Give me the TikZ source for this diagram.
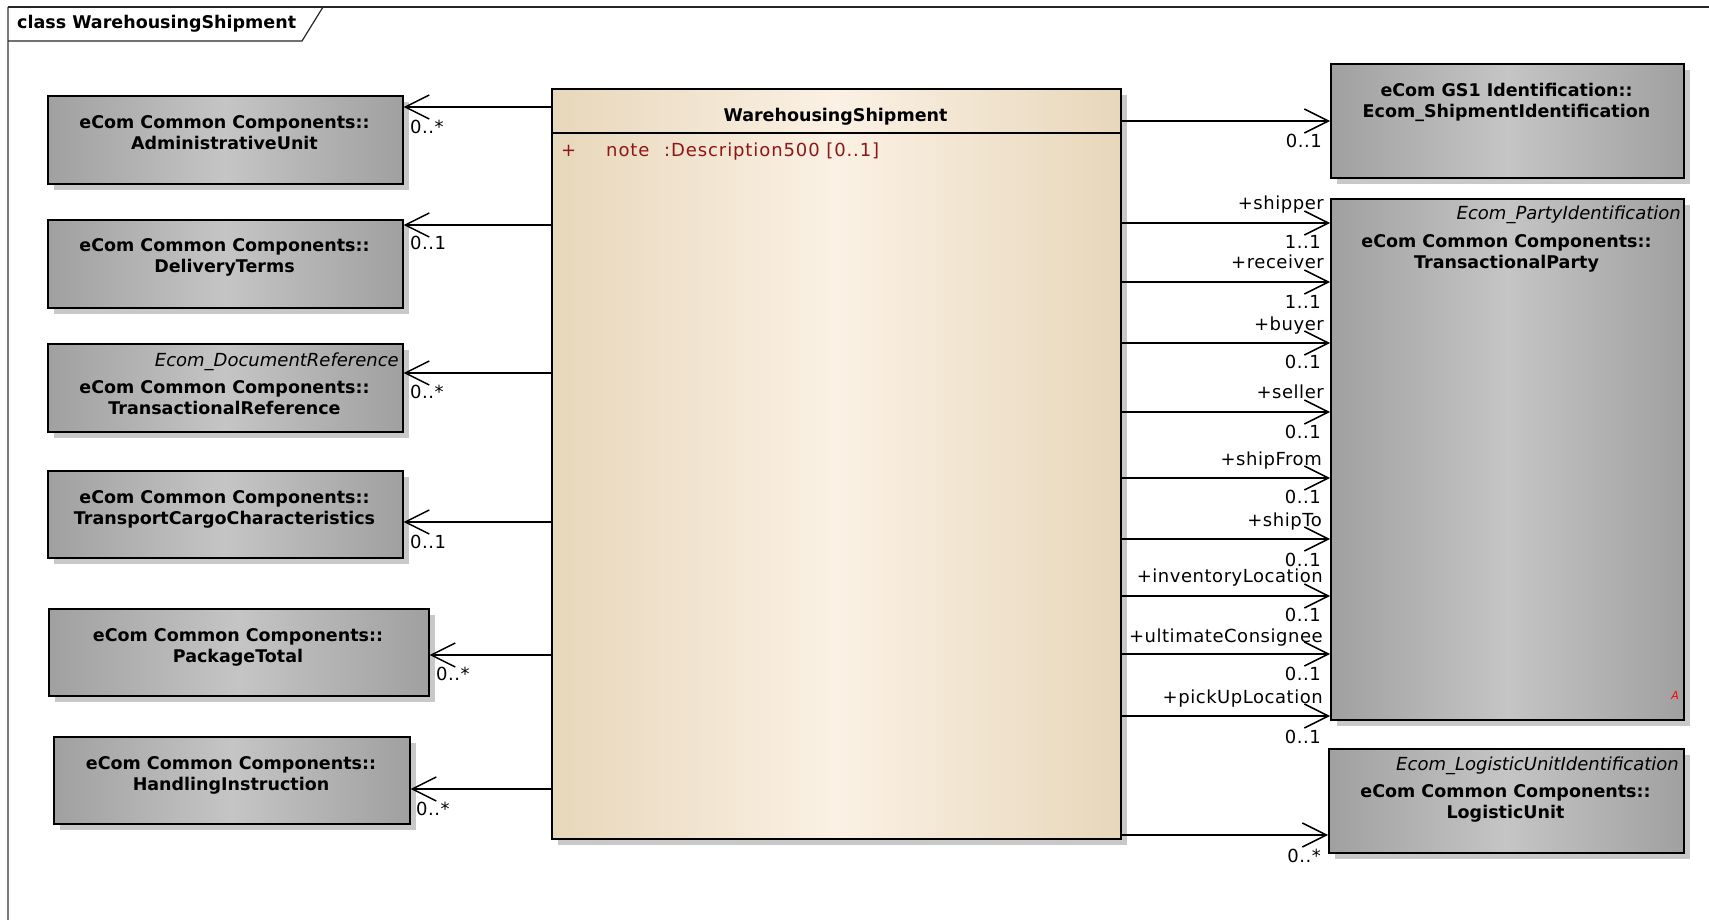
\documentclass[tikz,border=0pt]{standalone}
\usepackage{fontspec}
\setmainfont{DejaVu Sans}
\newfontfamily\lblfont[LetterSpace=3]{DejaVu Sans}
\newfontfamily\attrfont[LetterSpace=5]{DejaVu Sans}
\usetikzlibrary{arrows.meta,shadows}
\definecolor{gEdge}{HTML}{A0A0A0}
\definecolor{gMid}{HTML}{C5C5C5}
\definecolor{bEdge}{HTML}{E7D7BB}
\definecolor{bMid}{HTML}{FBF1E4}
\definecolor{attrred}{HTML}{8E1616}
\definecolor{shd}{HTML}{C8C8C8}
\definecolor{frameGray}{HTML}{7A7A7A}
\newcommand\boldtxt{\fontsize{17.5pt}{21pt}\selectfont\bfseries}
\newcommand\regtxt{\lblfont\fontsize{18pt}{21pt}\selectfont}
\newcommand\attrtxt{\attrfont\fontsize{18pt}{21pt}\selectfont}
\newcommand\ittxt{\fontsize{18pt}{21pt}\selectfont\itshape}
\begin{document}
\begin{tikzpicture}[x=1pt,y=-1pt,
  clsbox/.style={draw=black, line width=1.6pt, anchor=north west, inner sep=0pt,
    left color=gEdge, right color=gEdge, middle color=gMid,
    drop shadow={shadow xshift=6pt, shadow yshift=-6pt, fill=shd, opacity=1}},
  mainbox/.style={draw=black, line width=1.6pt, anchor=north west, inner sep=0pt,
    left color=bEdge, right color=bEdge, middle color=bMid,
    drop shadow={shadow xshift=6pt, shadow yshift=-6pt, fill=shd, opacity=1}},
  clsname/.style={align=center, inner sep=0pt, font=\boldtxt},
  stereo/.style={anchor=east, inner sep=0pt, font=\ittxt, text height=13.5pt, text depth=4pt},
  lbl/.style={inner sep=0pt, font=\regtxt, text height=13.5pt, text depth=4pt},
  lblE/.style={lbl, anchor=east},
  lblW/.style={lbl, anchor=west},
  attrlbl/.style={inner sep=0pt, anchor=west, font=\attrtxt, text=attrred, text height=13.5pt, text depth=4pt},
  assoc/.style={line width=1.5pt, -{Straight Barb[length=24pt,width=24pt,line width=1.5pt]}}
]
\useasboundingbox (0,0) rectangle (1709,920);
\fill[white] (0,0) rectangle (1709,920);

% frame
\draw[frameGray, line width=1.8pt] (8,7) -- (8,930);
\draw[black!85, line width=1.2pt] (8,7) -- (1720,7);
\draw[black!85, line width=1.2pt] (8,41) -- (302,41) -- (323,7);
\node[anchor=west, inner sep=0pt, font=\boldtxt, text height=13pt, text depth=4pt] (frametitle) at (17,24) {class WarehousingShipment};

% left classes
\node[clsbox, minimum width=355pt, minimum height=88pt] (admin) at (47,95) {};
\node[clsname] (admin-t) at (224.5,132.5) {eCom Common Components::\\AdministrativeUnit};

\node[clsbox, minimum width=355pt, minimum height=88pt] (deliv) at (47,219) {};
\node[clsname] (deliv-t) at (224.5,257) {eCom Common Components::\\DeliveryTerms};

\node[clsbox, minimum width=355pt, minimum height=88pt] (tref) at (47,343) {};
\node[stereo] (tref-s) at (399,362) {Ecom\_DocumentReference};
\node[clsname] (tref-t) at (224.5,398) {eCom Common Components::\\TransactionalReference};

\node[clsbox, minimum width=355pt, minimum height=87pt] (cargo) at (47,470) {};
\node[clsname] (cargo-t) at (224.5,509) {eCom Common Components::\\TransportCargoCharacteristics};

\node[clsbox, minimum width=380pt, minimum height=87pt] (pkg) at (48,608) {};
\node[clsname] (pkg-t) at (238,647) {eCom Common Components::\\PackageTotal};

\node[clsbox, minimum width=356pt, minimum height=87pt] (handl) at (53,736) {};
\node[clsname] (handl-t) at (231,775) {eCom Common Components::\\HandlingInstruction};

% main class
\node[mainbox, minimum width=569pt, minimum height=750pt] (ws) at (551,88) {};
\node[inner sep=0pt, font=\boldtxt, text height=13pt, text depth=4pt] (ws-t) at (835.5,117) {WarehousingShipment};
\draw[line width=1.5pt] (ws.west |- 0,133) -- (ws.east |- 0,133);
\node[attrlbl] (ws-a1) at (561,152) {+};
\node[attrlbl] (ws-a2) at (606,152) {note};
\node[attrlbl] (ws-a3) at (664,152) {:Description500 [0..1]};

% right classes
\node[clsbox, minimum width=353pt, minimum height=114pt] (shipid) at (1330,63) {};
\node[clsname] (shipid-t) at (1506.5,102.5) {eCom GS1 Identification::\\Ecom\_ShipmentIdentification};

\node[clsbox, minimum width=353pt, minimum height=521pt] (party) at (1330,198) {};
\node[stereo] (party-s) at (1681,215) {Ecom\_PartyIdentification};
\node[clsname] (party-t) at (1506.5,253.5) {eCom Common Components::\\TransactionalParty};
\node[inner sep=0pt, text=red, font=\fontsize{11pt}{12pt}\selectfont\itshape] (party-a) at (1675,695) {A};

\node[clsbox, minimum width=355pt, minimum height=104pt] (logi) at (1328,748) {};
\node[stereo] (logi-s) at (1679,766) {Ecom\_LogisticUnitIdentification};
\node[clsname] (logi-t) at (1505.5,803.5) {eCom Common Components::\\LogisticUnit};

% left associations
\draw[assoc] (ws.west |- 0,107) -- (admin.east |- 0,107);
\node[lblW] (m-admin) at (410,129) {0..*};
\draw[assoc] (ws.west |- 0,225) -- (deliv.east |- 0,225);
\node[lblW] (m-deliv) at (410,245) {0..1};
\draw[assoc] (ws.west |- 0,373) -- (tref.east |- 0,373);
\node[lblW] (m-tref) at (410,394) {0..*};
\draw[assoc] (ws.west |- 0,522) -- (cargo.east |- 0,522);
\node[lblW] (m-cargo) at (410,544) {0..1};
\draw[assoc] (ws.west |- 0,655) -- (pkg.east |- 0,655);
\node[lblW] (m-pkg) at (436,676) {0..*};
\draw[assoc] (ws.west |- 0,789) -- (handl.east |- 0,789);
\node[lblW] (m-handl) at (416,811) {0..*};

% right associations
\draw[assoc] (ws.east |- 0,121) -- (shipid.west |- 0,121);
\node[lblE] (m-shipid) at (1322,143) {0..1};

\draw[assoc] (ws.east |- 0,223) -- (party.west |- 0,223);
\node[lblE] (r-shipper) at (1324,205) {+shipper};
\node[lblE] (m-shipper) at (1321,244) {1..1};

\draw[assoc] (ws.east |- 0,282) -- (party.west |- 0,282);
\node[lblE] (r-receiver) at (1324,264) {+receiver};
\node[lblE] (m-receiver) at (1321,304) {1..1};

\draw[assoc] (ws.east |- 0,343) -- (party.west |- 0,343);
\node[lblE] (r-buyer) at (1324,326) {+buyer};
\node[lblE] (m-buyer) at (1321,364) {0..1};

\draw[assoc] (ws.east |- 0,412) -- (party.west |- 0,412);
\node[lblE] (r-seller) at (1324,394) {+seller};
\node[lblE] (m-seller) at (1321,434) {0..1};

\draw[assoc] (ws.east |- 0,478) -- (party.west |- 0,478);
\node[lblE] (r-shipfrom) at (1322,461) {+shipFrom};
\node[lblE] (m-shipfrom) at (1321,499) {0..1};

\draw[assoc] (ws.east |- 0,539) -- (party.west |- 0,539);
\node[lblE] (r-shipto) at (1322,522) {+shipTo};
\node[lblE] (m-shipto) at (1321,562) {0..1};

\draw[assoc] (ws.east |- 0,596) -- (party.west |- 0,596);
\node[lblE] (r-inv) at (1323,578) {+inventoryLocation};
\node[lblE] (m-inv) at (1321,617) {0..1};

\draw[assoc] (ws.east |- 0,654) -- (party.west |- 0,654);
\node[lblE] (r-ult) at (1323,638) {+ultimateConsignee};
\node[lblE] (m-ult) at (1321,676) {0..1};

\draw[assoc] (ws.east |- 0,716) -- (party.west |- 0,716);
\node[lblE] (r-pick) at (1323,699) {+pickUpLocation};
\node[lblE] (m-pick) at (1321,739) {0..1};

\draw[assoc] (ws.east |- 0,835) -- (logi.west |- 0,835);
\node[lblE] (m-logi) at (1321,858) {0..*};
\end{tikzpicture}
\end{document}
